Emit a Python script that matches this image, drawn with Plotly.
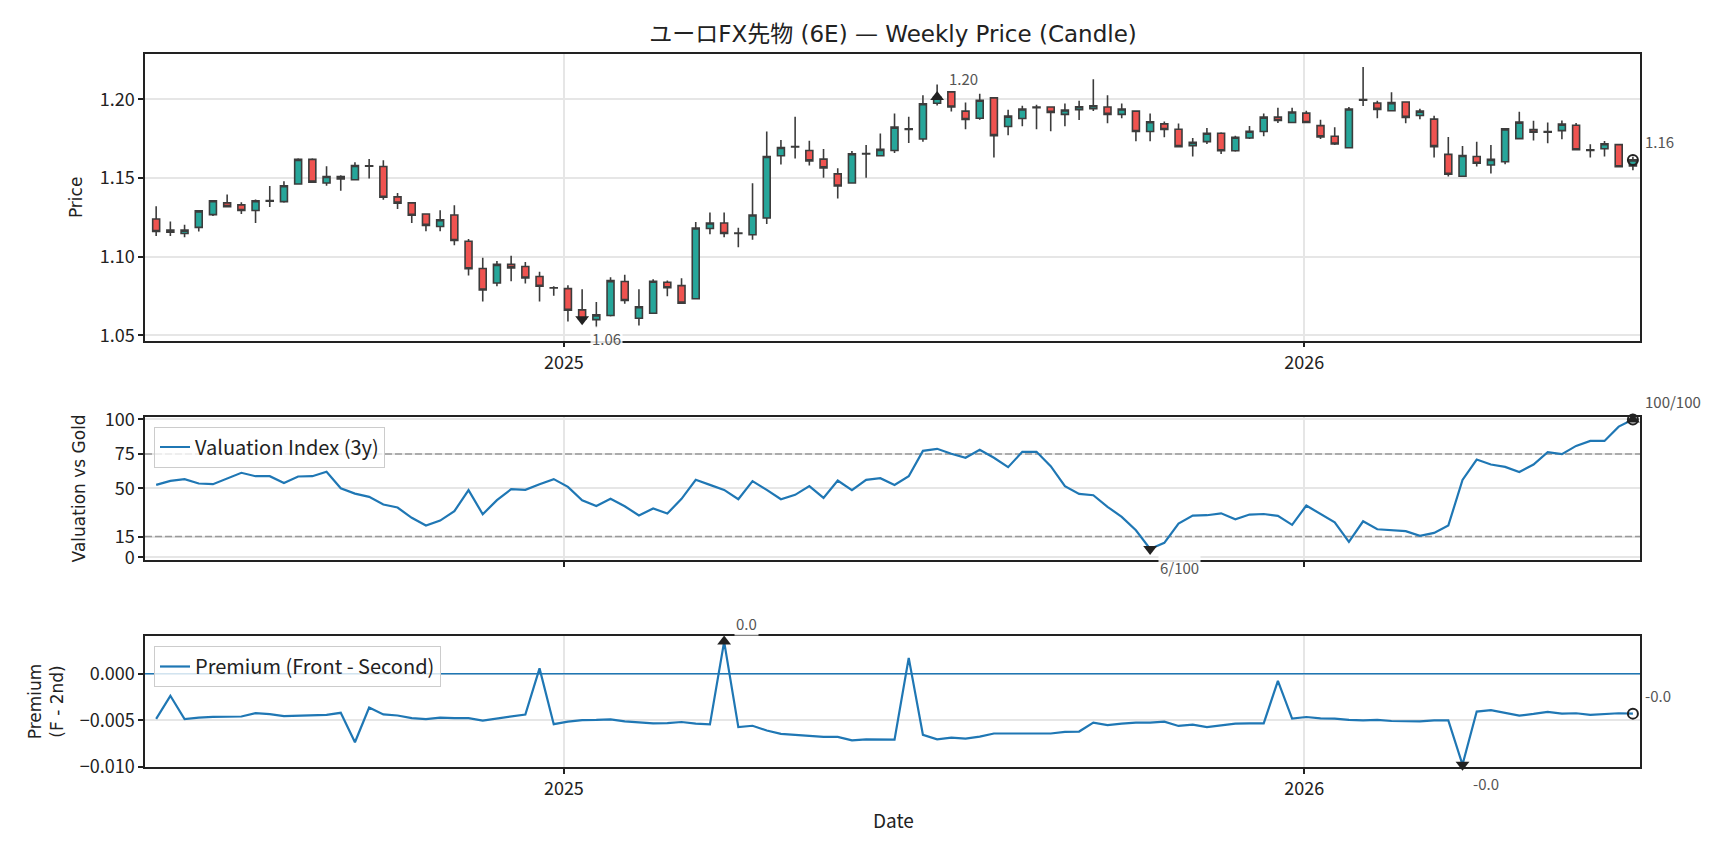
import numpy as np
import pandas as pd
import plotly.graph_objects as go

# ---------------- data ----------------
dates = pd.date_range("2024-06-14", periods=105, freq="W-FRI")

open_ = [1.1239, 1.1169, 1.1147, 1.1186, 1.1267, 1.1342, 1.1329, 1.1293, 1.1353, 1.1350,
         1.1462, 1.1618, 1.1468, 1.1509, 1.1489, 1.1577, 1.1573, 1.1380, 1.1342, 1.1271,
         1.1192, 1.1265, 1.1098, 1.0925, 1.0833, 1.0951, 1.0938, 1.0874, 1.0803, 1.0797,
         1.0662, 1.0600, 1.0626, 1.0842, 1.0609, 1.0641, 1.0838, 1.0816, 1.0733, 1.1179,
         1.1214, 1.1150, 1.1139, 1.1246, 1.1641, 1.1697, 1.1675, 1.1620, 1.1526, 1.1468,
         1.1652, 1.1641, 1.1675, 1.1812, 1.1748, 1.1975, 1.2047, 1.1925, 1.1880, 1.2009,
         1.1827, 1.1878, 1.1950, 1.1951, 1.1904, 1.1934, 1.1940, 1.1951, 1.1904, 1.1925,
         1.1795, 1.1844, 1.1810, 1.1705, 1.1731, 1.1784, 1.1673, 1.1754, 1.1795, 1.1887,
         1.1853, 1.1912, 1.1833, 1.1765, 1.1692, 1.1998, 1.1976, 1.1927, 1.1983, 1.1897,
         1.1874, 1.1650, 1.1511, 1.1637, 1.1583, 1.1603, 1.1750, 1.1808, 1.1795, 1.1801,
         1.1835, 1.1679, 1.1686, 1.1712, 1.1577]
high = [1.1321, 1.1224, 1.1203, 1.1295, 1.1359, 1.1395, 1.1346, 1.1363, 1.1449, 1.1479,
        1.1626, 1.1626, 1.1575, 1.1517, 1.1600, 1.1620, 1.1613, 1.1404, 1.1345, 1.1274,
        1.1295, 1.1327, 1.1113, 1.0994, 1.0972, 1.1006, 1.0966, 1.0904, 1.0812, 1.0818,
        1.0793, 1.0712, 1.0870, 1.0885, 1.0793, 1.0857, 1.0848, 1.0863, 1.1220, 1.1280,
        1.1280, 1.1184, 1.1466, 1.1795, 1.1741, 1.1889, 1.1737, 1.1684, 1.1562, 1.1671,
        1.1709, 1.1782, 1.1910, 1.1889, 1.2026, 1.2094, 1.2050, 1.1979, 1.2036, 1.2015,
        1.1934, 1.1959, 1.1966, 1.1955, 1.1974, 1.1991, 1.2128, 1.2026, 1.1974, 1.1930,
        1.1910, 1.1859, 1.1846, 1.1754, 1.1818, 1.1791, 1.1769, 1.1831, 1.1910, 1.1947,
        1.1947, 1.1927, 1.1870, 1.1823, 1.1951, 1.2205, 1.1991, 1.2045, 1.1985, 1.1940,
        1.1895, 1.1761, 1.1703, 1.1731, 1.1709, 1.1818, 1.1921, 1.1863, 1.1853, 1.1865,
        1.1850, 1.1714, 1.1735, 1.1715, 1.1635]
low = [1.1132, 1.1132, 1.1124, 1.1160, 1.1259, 1.1316, 1.1271, 1.1214, 1.1316, 1.1342,
       1.1457, 1.1472, 1.1451, 1.1419, 1.1485, 1.1496, 1.1361, 1.1303, 1.1214, 1.1162,
       1.1162, 1.1073, 1.0880, 1.0716, 1.0812, 1.0844, 1.0829, 1.0716, 1.0752, 1.0588,
       1.0595, 1.0549, 1.0620, 1.0701, 1.0562, 1.0636, 1.0748, 1.0701, 1.0728, 1.1143,
       1.1124, 1.1060, 1.1107, 1.1207, 1.1585, 1.1624, 1.1579, 1.1502, 1.1370, 1.1464,
       1.1502, 1.1638, 1.1658, 1.1722, 1.1731, 1.1960, 1.1923, 1.1810, 1.1870, 1.1630,
       1.1771, 1.1829, 1.1810, 1.1797, 1.1829, 1.1868, 1.1925, 1.1848, 1.1880, 1.1733,
       1.1733, 1.1759, 1.1695, 1.1637, 1.1716, 1.1652, 1.1667, 1.1748, 1.1765, 1.1850,
       1.1848, 1.1848, 1.1748, 1.1709, 1.1688, 1.1957, 1.1880, 1.1924, 1.1848, 1.1874,
       1.1630, 1.1509, 1.1508, 1.1573, 1.1528, 1.1588, 1.1747, 1.1739, 1.1720, 1.1746,
       1.1676, 1.1630, 1.1637, 1.1568, 1.1549]
close = [1.1160, 1.1155, 1.1169, 1.1291, 1.1355, 1.1318, 1.1293, 1.1355, 1.1357, 1.1451,
         1.1618, 1.1474, 1.1509, 1.1494, 1.1579, 1.1575, 1.1378, 1.1340, 1.1263, 1.1199,
         1.1235, 1.1103, 1.0923, 1.0788, 1.0951, 1.0929, 1.0865, 1.0812, 1.0801, 1.0660,
         1.0603, 1.0630, 1.0848, 1.0722, 1.0682, 1.0844, 1.0803, 1.0705, 1.1182, 1.1214,
         1.1147, 1.1148, 1.1265, 1.1637, 1.1694, 1.1699, 1.1609, 1.1564, 1.1449, 1.1654,
         1.1656, 1.1682, 1.1823, 1.1808, 1.1972, 1.2015, 1.1951, 1.1872, 1.1994, 1.1769,
         1.1893, 1.1938, 1.1947, 1.1917, 1.1932, 1.1953, 1.1959, 1.1904, 1.1938, 1.1795,
         1.1857, 1.1808, 1.1699, 1.1726, 1.1784, 1.1673, 1.1759, 1.1797, 1.1887, 1.1865,
         1.1919, 1.1853, 1.1761, 1.1716, 1.1938, 1.1994, 1.1936, 1.1979, 1.1885, 1.1925,
         1.1699, 1.1524, 1.1643, 1.1594, 1.1618, 1.1812, 1.1855, 1.1791, 1.1791, 1.1842,
         1.1679, 1.1675, 1.1718, 1.1571, 1.1615]

valuation = [52.5, 55.4, 56.7, 53.5, 53.0, 56.9, 61.3, 58.8, 58.8, 53.8,
             58.6, 58.8, 62.0, 50.1, 46.2, 43.8, 38.3, 36.1, 28.6, 23.0,
             26.6, 33.4, 48.7, 31.2, 41.4, 49.4, 48.9, 53.0, 56.7, 51.1,
             41.4, 37.2, 42.4, 37.0, 30.3, 35.4, 31.7, 42.4, 56.2, 52.5,
             48.9, 42.1, 55.2, 48.9, 42.1, 45.3, 51.6, 43.1, 55.7, 48.7,
             56.2, 57.4, 52.5, 58.8, 77.2, 78.7, 75.1, 72.2, 78.0, 72.2,
             65.4, 76.5, 76.5, 66.1, 51.6, 46.0, 45.0, 36.6, 29.3, 19.6,
             6.0, 10.5, 24.4, 30.2, 30.5, 31.9, 27.6, 31.0, 31.4, 30.0,
             23.5, 37.5, 31.2, 25.4, 11.1, 26.1, 20.3, 19.4, 18.9, 15.5,
             17.7, 23.0, 56.1, 70.9, 67.3, 65.6, 61.9, 67.3, 76.2, 74.8,
             80.8, 84.4, 84.4, 94.8, 100.0]

premium = [-0.00484, -0.00237, -0.00487, -0.00470, -0.00462, -0.00459, -0.00459, -0.00423, -0.00434, -0.00455,
           -0.00452, -0.00444, -0.00441, -0.00419, -0.00735, -0.00362, -0.00437, -0.00448, -0.00477, -0.00487,
           -0.00470, -0.00477, -0.00477, -0.00502, -0.00480, -0.00455, -0.00437, 0.00057, -0.00541, -0.00513,
           -0.00497, -0.00496, -0.00489, -0.00511, -0.00522, -0.00533, -0.00529, -0.00518, -0.00536, -0.00543,
           0.00344, -0.00572, -0.00558, -0.00609, -0.00645, -0.00656, -0.00670, -0.00678, -0.00678, -0.00714,
           -0.00703, -0.00703, -0.00707, 0.00170, -0.00656, -0.00703, -0.00685, -0.00696, -0.00674, -0.00641,
           -0.00641, -0.00641, -0.00649, -0.00641, -0.00623, -0.00620, -0.00525, -0.00551, -0.00536, -0.00525,
           -0.00525, -0.00514, -0.00560, -0.00547, -0.00572, -0.00554, -0.00536, -0.00533, -0.00533, -0.00076,
           -0.00482, -0.00464, -0.00478, -0.00482, -0.00496, -0.00500, -0.00496, -0.00507, -0.00507, -0.00511,
           -0.00500, -0.00500, -0.00975, -0.00406, -0.00391, -0.00417, -0.00449, -0.00431, -0.00409, -0.00428,
           -0.00424, -0.00442, -0.00435, -0.00424, -0.00428]

TITLE = "ユーロFX先物 (6E) — Weekly Price (Candle)"
year_ticks = ["2025-01-01", "2026-01-01"]
year_labels = ["2025", "2026"]
price_ticks = [1.05, 1.10, 1.15, 1.20]
val_ticks = [0, 15, 50, 75, 100]
val_bands = [15, 75]
prem_ticks = [-0.010, -0.005, 0.0]
prem_zero = 0.0
val_range = [-2, 102]
prem_range = [-0.0100, 0.00405]
x_range = ["2024-06-08 12:00", "2026-06-15 12:00"]

# ---------------- style ----------------
FONT = "Noto Sans CJK JP"
FONT2 = "DejaVu Sans, Noto Sans CJK JP"
INK = "#222222"
GRID = "#e6e6e6"
BLUE = "#1f77b4"
UP = "#26a69a"
DOWN = "#ef5350"
LABEL = "#555555"

XD = [145 / 1728, 1640 / 1728]
YD1 = [1 - 340.7 / 849, 1 - 54 / 849]
YD2 = [1 - 560 / 849, 1 - 416.7 / 849]
YD3 = [1 - 767 / 849, 1 - 635.9 / 849]

fig = go.Figure()

fig.add_trace(go.Candlestick(
    x=dates, open=open_, high=high, low=low, close=close,
    increasing=dict(fillcolor=UP, line=dict(color="#3c3c3c", width=1.6)),
    decreasing=dict(fillcolor=DOWN, line=dict(color="#3c3c3c", width=1.6)),
    xaxis="x", yaxis="y", showlegend=False, hoverinfo="skip"))

# reference lines (drawn beneath the data lines)
for b in val_bands:
    fig.add_trace(go.Scatter(x=x_range, y=[b, b], mode="lines", showlegend=False, hoverinfo="skip",
                             line=dict(color="#999999", width=1.5, dash="7px,3px"),
                             xaxis="x2", yaxis="y2"))
fig.add_trace(go.Scatter(x=x_range, y=[prem_zero, prem_zero], mode="lines", showlegend=False,
                         hoverinfo="skip", line=dict(color=BLUE, width=1.5),
                         xaxis="x3", yaxis="y3"))

fig.add_trace(go.Scatter(x=dates, y=valuation, mode="lines", name="Valuation Index (3y)",
                         line=dict(color=BLUE, width=2.2), xaxis="x2", yaxis="y2",
                         legend="legend"))
fig.add_trace(go.Scatter(x=dates, y=premium, mode="lines", name="Premium (Front - Second)",
                         line=dict(color=BLUE, width=2.2), xaxis="x3", yaxis="y3",
                         legend="legend2"))

annotations = []


def mark(x, y, symbol, xa, ya, size=12):
    is_open = symbol.endswith("open")
    fig.add_trace(go.Scatter(
        x=[x], y=[y], mode="markers", showlegend=False, cliponaxis=False, hoverinfo="skip",
        marker=dict(symbol=symbol, size=size, color=INK,
                    line=dict(color=INK, width=2 if is_open else 0)),
        xaxis=xa, yaxis=ya))


def label(x, y, text, xa, ya, below=False):
    annotations.append(dict(
        x=x, y=y, xref=xa, yref=ya, text=text, showarrow=False,
        xanchor="left", yanchor="middle", xshift=8 if below else 10,
        yshift=-19 if below else 18, bgcolor="rgba(255,255,255,0.85)", borderpad=1,
        font=dict(family=FONT, size=15, color=LABEL)))


def extremes(series, xa, ya, fmt):
    arr = np.asarray(series)
    imax, imin = int(arr.argmax()), int(arr.argmin())
    mark(dates[imax], arr[imax], "triangle-up", xa, ya)
    label(dates[imax], arr[imax], fmt(arr[imax]), xa, ya)
    mark(dates[imin], arr[imin], "triangle-down", xa, ya)
    label(dates[imin], arr[imin], fmt(arr[imin]), xa, ya, below=True)
    mark(dates[-1], arr[-1], "circle-open", xa, ya, size=10)
    label(dates[-1], arr[-1], fmt(arr[-1]), xa, ya)


extremes(close, "x", "y", lambda v: f"{v:.2f}")
extremes(valuation, "x2", "y2", lambda v: f"{v:.0f}/100")
extremes(premium, "x3", "y3", lambda v: f"{v:.1f}")

annotations.append(
    dict(x=893 / 1728, y=1 - 819 / 849, xref="paper", yref="paper", text="Date",
         showarrow=False, font=dict(family=FONT, size=19, color=INK),
         xanchor="center", yanchor="middle"))

yfont = dict(family=FONT2, size=17, color=INK)

lo, hi = min(low), max(high)
pad = 0.05 * (hi - lo)
price_range = [lo - pad, hi + pad]

axis_common = dict(showline=True, mirror=True, linecolor=INK, linewidth=1.5,
                   ticks="outside", ticklen=5, tickwidth=1.5, tickcolor=INK,
                   showgrid=True, gridcolor=GRID, gridwidth=1.5, zeroline=False,
                   automargin=False,
                   tickfont=dict(family=FONT, size=18, color=INK))

xcommon = dict(axis_common, domain=XD, type="date", range=x_range,
               tickvals=year_ticks, ticktext=year_labels, rangeslider=dict(visible=False))

legend_style = dict(xanchor="left", yanchor="top", bgcolor="rgba(255,255,255,0.8)",
                    bordercolor="#cccccc", borderwidth=1,
                    font=dict(family=FONT, size=20, color=INK))

fig.update_layout(
    width=1728, height=849,
    margin=dict(l=0, r=0, t=0, b=0, autoexpand=False),
    paper_bgcolor="white", plot_bgcolor="white",
    font=dict(family=FONT, color=INK),
    title=dict(text=TITLE, x=893 / 1728, xanchor="center", y=1 - 34 / 849, yanchor="middle",
               font=dict(family=FONT2, size=23, color=INK)),
    xaxis=dict(xcommon, anchor="y"),
    xaxis2=dict(xcommon, anchor="y2", matches="x", showticklabels=False),
    xaxis3=dict(xcommon, anchor="y3", matches="x"),
    yaxis=dict(axis_common, domain=YD1, anchor="x", range=price_range,
               tickvals=price_ticks, tickformat=".2f",
               title=dict(text="Price", font=yfont, standoff=13)),
    yaxis2=dict(axis_common, domain=YD2, anchor="x2", range=val_range, tickvals=val_ticks,
                title=dict(text="Valuation vs Gold", font=yfont, standoff=15)),
    yaxis3=dict(axis_common, domain=YD3, anchor="x3", range=prem_range,
                tickvals=prem_ticks, tickformat=".3f",
                title=dict(text="Premium<br>(F - 2nd)", font=yfont, standoff=12)),
    legend=dict(legend_style, x=154 / 1728, y=1 - 426.5 / 849),
    legend2=dict(legend_style, x=154 / 1728, y=1 - 646 / 849),
    annotations=annotations,
    showlegend=True,
    hovermode=False,
)

fig.write_html("out.html")
